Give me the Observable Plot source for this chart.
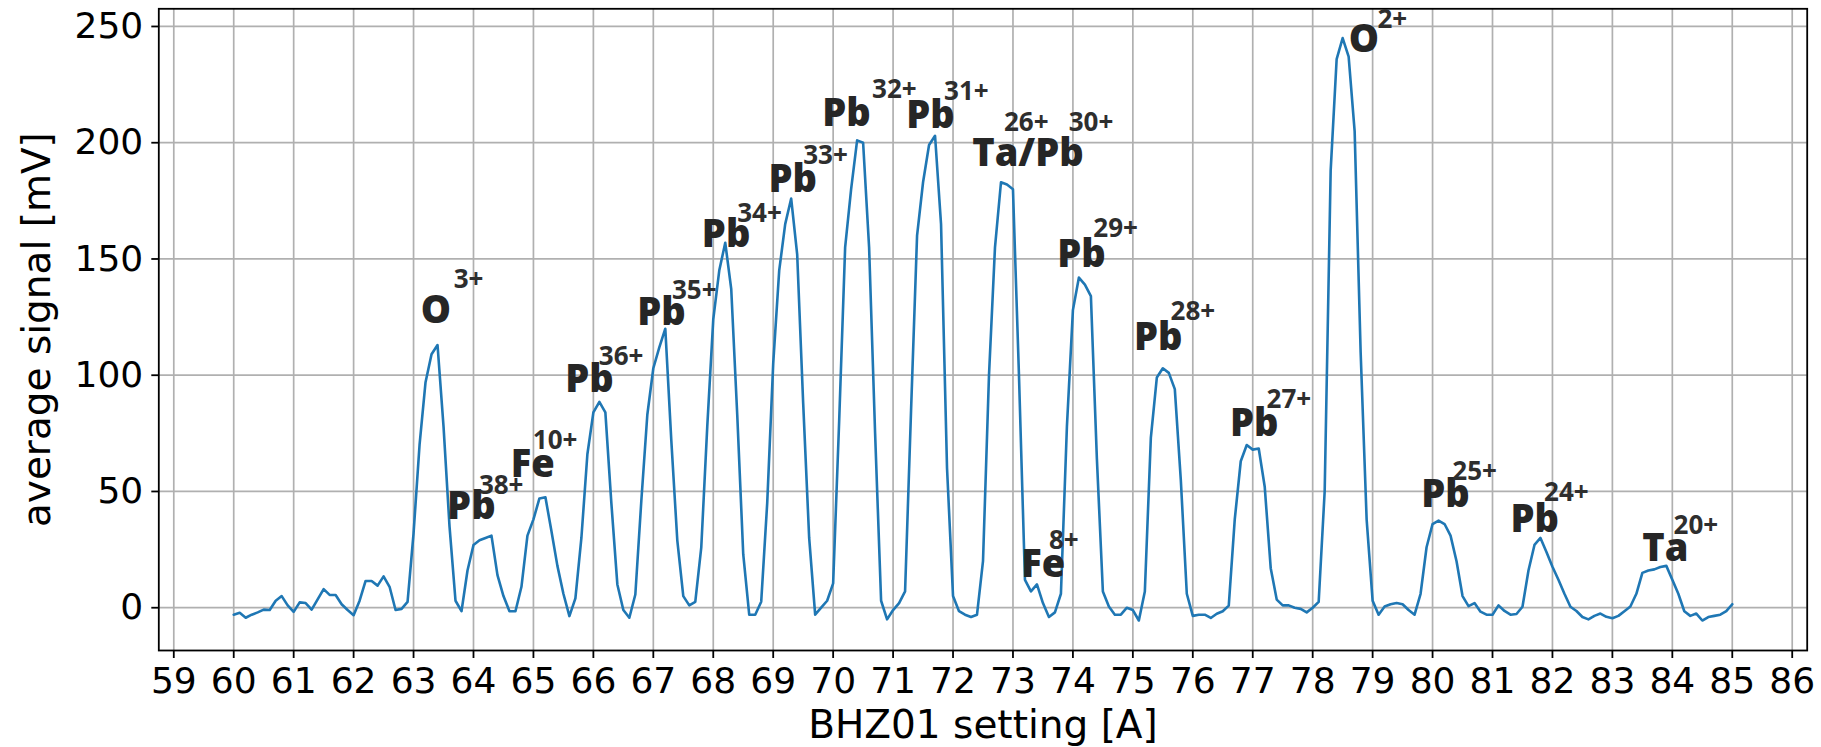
<!DOCTYPE html>
<html><head><meta charset="utf-8">
<script src="https://cdn.jsdelivr.net/npm/d3@7"></script>
<script src="https://cdn.jsdelivr.net/npm/@observablehq/plot@0.6"></script>
<style>
html,body{margin:0;padding:0;background:#fff;}
#chart svg{display:block;}
</style></head><body><div id="chart"></div>
<script>
// BHZ01 magnet current setting [A]
const settings = [
  60.0,60.1,60.2,60.3,60.4,60.5,60.6,60.7,60.8,60.9,
  61.0,61.1,61.2,61.3,61.4,61.5,61.6,61.7,61.8,61.9,
  62.0,62.1,62.2,62.3,62.4,62.5,62.6,62.7,62.8,62.9,
  63.0,63.1,63.2,63.3,63.4,63.5,63.6,63.7,63.8,63.9,
  64.0,64.1,64.2,64.3,64.4,64.5,64.6,64.7,64.8,64.9,
  65.0,65.1,65.2,65.3,65.4,65.5,65.6,65.7,65.8,65.9,
  66.0,66.1,66.2,66.3,66.4,66.5,66.6,66.7,66.8,66.9,
  67.0,67.1,67.2,67.3,67.4,67.5,67.6,67.7,67.8,67.9,
  68.0,68.1,68.2,68.3,68.4,68.5,68.6,68.7,68.8,68.9,
  69.0,69.1,69.2,69.3,69.4,69.5,69.6,69.7,69.8,69.9,
  70.0,70.1,70.2,70.3,70.4,70.5,70.6,70.7,70.8,70.9,
  71.0,71.1,71.2,71.3,71.4,71.5,71.6,71.7,71.8,71.9,
  72.0,72.1,72.2,72.3,72.4,72.5,72.6,72.7,72.8,72.9,
  73.0,73.1,73.2,73.3,73.4,73.5,73.6,73.7,73.8,73.9,
  74.0,74.1,74.2,74.3,74.4,74.5,74.6,74.7,74.8,74.9,
  75.0,75.1,75.2,75.3,75.4,75.5,75.6,75.7,75.8,75.9,
  76.0,76.1,76.2,76.3,76.4,76.5,76.6,76.7,76.8,76.9,
  77.0,77.1,77.2,77.3,77.4,77.5,77.6,77.7,77.8,77.9,
  78.0,78.1,78.2,78.3,78.4,78.5,78.6,78.7,78.8,78.9,
  79.0,79.1,79.2,79.3,79.4,79.5,79.6,79.7,79.8,79.9,
  80.0,80.1,80.2,80.3,80.4,80.5,80.6,80.7,80.8,80.9,
  81.0,81.1,81.2,81.3,81.4,81.5,81.6,81.7,81.8,81.9,
  82.0,82.1,82.2,82.3,82.4,82.5,82.6,82.7,82.8,82.9,
  83.0,83.1,83.2,83.3,83.4,83.5,83.6,83.7,83.8,83.9,
  84.0,84.1,84.2,84.3,84.4,84.5,84.6,84.7,84.8,84.9,
  85.0
];
// average signal [mV]
const signal = [
  -3, -2.2, -4.3, -3, -2, -0.8, -1, 3, 5, 1,
  -1.8, 2.3, 2, -0.8, 3.6, 8, 5.5, 5.5, 1.5, -1,
  -3.2, 3, 11.5, 11.5, 9.5, 13.5, 9, -1, -0.5, 2.5,
  32, 70, 97, 109, 113, 78, 35, 3, -1.5, 16,
  27, 29, 30, 31, 14, 5, -1.5, -1.5, 9, 31,
  38, 47, 47.5, 33, 18, 6, -3.6, 4, 30, 66,
  84, 88.5, 84, 45, 10, -1, -4.3, 5.7, 46, 83,
  103, 112, 120, 72, 29, 5, 1, 2.5, 26, 78,
  124, 145, 157, 137, 83, 23, -3, -3, 2.6, 45,
  105, 145, 165, 176, 152, 88, 30, -3, 0, 3,
  10.5, 80, 155, 180, 201, 200, 155, 75, 3, -5,
  -1, 2, 7, 85, 160, 183, 199, 203, 165, 60,
  5, -1.5, -3, -4, -3, 20, 100, 155, 183, 182,
  180, 100, 12, 7, 10, 2, -4, -2, 6, 78,
  128, 142, 139, 134, 64, 7, 0.5, -3, -3, 0,
  -1, -5.5, 7, 73, 99, 103, 101, 94, 55, 6,
  -3.5, -3, -3, -4.4, -2.6, -1.5, 0.9, 38, 63, 70,
  68, 68.5, 52, 17, 3.5, 1, 1, 0, -0.5, -2,
  0, 2.5, 50, 188, 236, 245, 237, 205, 110, 38,
  3, -3, 0.5, 1.5, 2, 1.5, -1, -3, 6, 26,
  36, 37.5, 36, 31, 20, 5, 0.7, 2, -1.7, -3,
  -3, 1, -1.4, -3, -2.7, 0.4, 16, 27, 30, 24,
  17.6, 12, 6, 0.4, -1.4, -4, -5, -3.5, -2.5, -3.9,
  -4.5, -3.5, -1.5, 0.5, 6, 15, 16, 16.5, 17.5, 18,
  12, 6, -1.5, -3.5, -2.5, -5.5, -4, -3.5, -3, -1.5,
  1.5
];
const xTicks = [59,60,61,62,63,64,65,66,67,68,69,70,71,72,73,74,75,76,77,78,79,80,81,82,83,84,85,86];
const yTicks = [0,50,100,150,200,250];

// ion labels (element part), anchored at data coordinates
const ionNames = ["O","Pb","Fe","Pb","Pb","Pb","Pb","Pb","Pb","Ta/Pb","Pb","Fe","Pb","Pb","O","Pb","Pb","Ta"];
const ionX = [63.12,63.56,64.62,65.53,66.73,67.81,68.92,69.82,71.22,72.32,73.74,73.14,75.02,76.62,78.60,79.81,81.30,83.50];
const ionY = [122.3,38.3,56.2,92.7,121.4,155.1,179,207,206.5,190,146.4,13,110.9,73.7,239,43.3,32.6,20.1];
// charge states (superscripts)
const chargeTexts = ["3+","38+","10+","36+","35+","34+","33+","32+","31+","26+","30+","29+","8+","28+","27+","2+","25+","24+","20+"];
const chargeX = [63.67,64.09,64.99,66.09,67.31,68.40,69.50,70.65,71.85,72.85,73.93,74.34,73.60,75.63,77.23,79.08,80.33,81.86,84.02];
const chargeY = [137.3,49.0,68.4,104.2,132.9,165.9,190.7,219.2,218.5,204.9,204.9,159.4,25.2,123.9,86,249.5,55,46.1,31.6];

const rows = settings.map((s, i) => ({setting: s, signal: signal[i]}));
const ions = ionNames.map((t, i) => ({text: t, x: ionX[i], y: ionY[i]}));
const charges = chargeTexts.map((t, i) => ({text: t, x: chargeX[i], y: chargeY[i]}));

const chart = Plot.plot({
  width: 1821,
  height: 747,
  marginLeft: 158.3,
  marginRight: 14.3,
  marginTop: 8.3,
  marginBottom: 97,
  style: {fontFamily: "DejaVu Sans", fontSize: "36px", background: "#fff", color: "#000", overflow: "visible"},
  x: {type: "linear", domain: [58.75, 86.25]},
  y: {type: "linear", domain: [-18.4, 257.6]},
  marks: [
    Plot.gridX(xTicks, {stroke: "#b0b0b0", strokeOpacity: 1, strokeWidth: 1.7}),
    Plot.gridY(yTicks, {stroke: "#b0b0b0", strokeOpacity: 1, strokeWidth: 1.7}),
    Plot.line(rows, {x: "setting", y: "signal", stroke: "#1f77b4", strokeWidth: 2.6}),
    Plot.frame({stroke: "#000", strokeWidth: 1.8}),
    Plot.axisX(xTicks, {tickSize: 8, tickPadding: 9, strokeWidth: 1.8, fontSize: 36, label: null, tickFormat: d => String(d)}),
    Plot.axisY(yTicks, {tickSize: 7, tickPadding: 8.6, strokeWidth: 1.8, fontSize: 36, label: null, tickFormat: d => String(d)}),
    Plot.text(["BHZ01 setting [A]"], {text: d => d, frameAnchor: "bottom", dy: 87, textAnchor: "middle", lineAnchor: "bottom", fontSize: 39, fill: "#000"}),
    Plot.text(["average signal [mV]"], {text: d => d, frameAnchor: "left", dx: -109, rotate: -90, textAnchor: "middle", lineAnchor: "bottom", fontSize: 39, fill: "#000"}),
    Plot.text(ions, {x: "x", y: "y", text: "text", textAnchor: "start", lineAnchor: "bottom", fontFamily: "Open Sans", fontWeight: 800, fontSize: 38, fill: "#262626"}),
    Plot.text(charges, {x: "x", y: "y", text: "text", textAnchor: "start", lineAnchor: "bottom", fontFamily: "Open Sans", fontWeight: 700, fontSize: 26, fill: "#2e2e2e"})
  ]
});
document.getElementById("chart").appendChild(chart);
</script>
</body></html>
